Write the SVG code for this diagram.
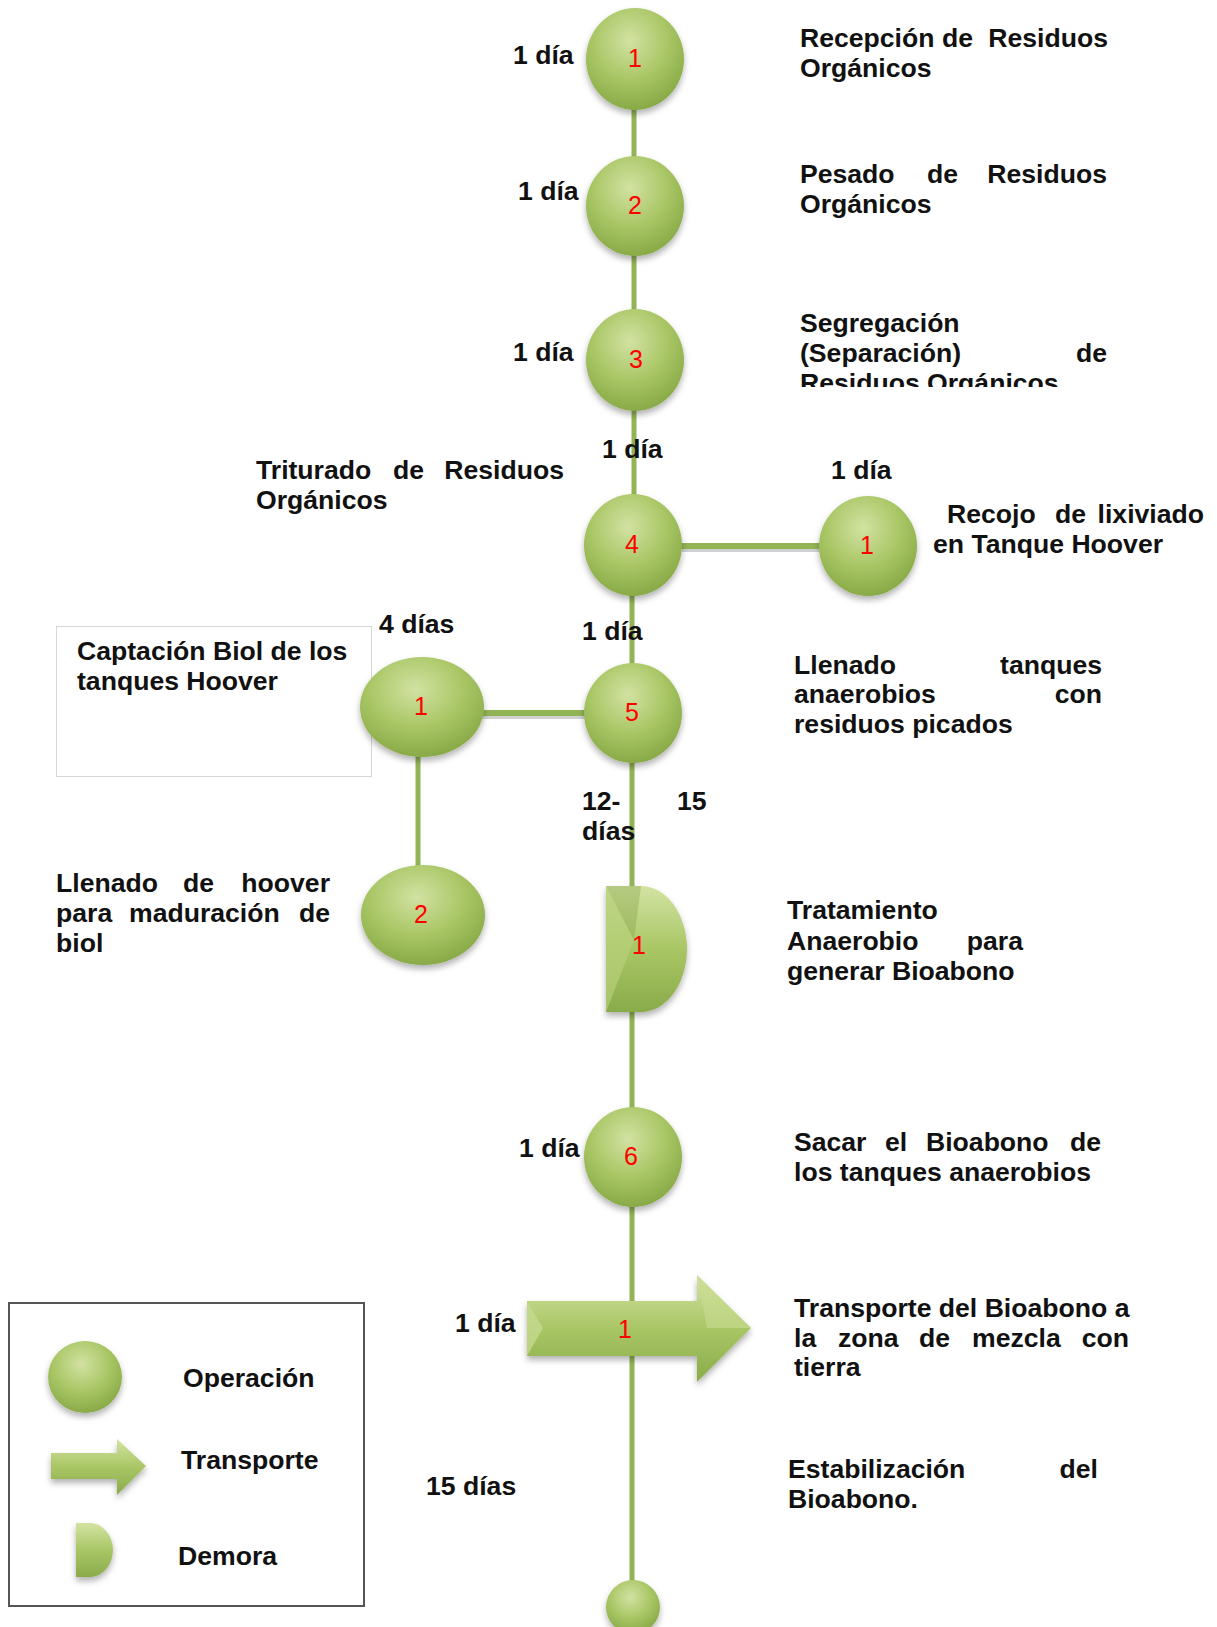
<svg xmlns="http://www.w3.org/2000/svg" width="1217" height="1627" viewBox="0 0 1217 1627">
<style>
.t{font-family:"Liberation Sans",Arial,sans-serif;font-weight:bold;font-size:26.6px;fill:#111}
.e{text-anchor:end}
.n{font-family:"Liberation Sans",Arial,sans-serif;font-size:25px;fill:#ff0000;text-anchor:middle}
.op{fill:url(#gOp);filter:url(#sh)}
.sym{fill:url(#gLin);filter:url(#sh)}
.ln{stroke:#92b455;stroke-width:5;fill:none}
.lnh{stroke:#92b455;stroke-width:6;fill:none}
.lns{stroke:#000;stroke-opacity:0.18;stroke-width:4;fill:none}
</style>
<defs>
<radialGradient id="gOp" cx="45%" cy="32%" r="70%">
<stop offset="0" stop-color="#d2e2a2"/>
<stop offset="0.55" stop-color="#a9c665"/>
<stop offset="1" stop-color="#86a845"/>
</radialGradient>
<linearGradient id="gLin" x1="0" y1="0" x2="0" y2="1">
<stop offset="0" stop-color="#d3e3a3"/>
<stop offset="0.5" stop-color="#a9c665"/>
<stop offset="1" stop-color="#8aab4a"/>
</linearGradient>
<filter id="sh" x="-30%" y="-30%" width="160%" height="160%">
<feDropShadow dx="0" dy="4" stdDeviation="3" flood-color="#000" flood-opacity="0.3"/>
</filter>
<clipPath id="clip3"><rect x="780" y="290" width="360" height="97"/></clipPath>
</defs>
<rect width="1217" height="1627" fill="#fff"/>

<g id="connectors">
<line class="ln" x1="634" y1="100" x2="634" y2="500"/>
<line class="ln" x1="632" y1="500" x2="632" y2="1585"/>
<line class="lns" x1="682" y1="550" x2="820" y2="550"/>
<line class="lnh" x1="680" y1="546" x2="820" y2="546"/>
<line class="lns" x1="482" y1="717" x2="586" y2="717"/>
<line class="lnh" x1="482" y1="713" x2="586" y2="713"/>
<line class="ln" x1="418" y1="752" x2="418" y2="866"/>
</g>

<g id="op1">
<ellipse class="op" cx="635" cy="59" rx="49" ry="51"/>
<text class="n" x="635" y="67">1</text>
<text class="t" x="513" y="64">1 día</text>
<text class="t" y="47"><tspan x="800">Recepción</tspan><tspan x="942">de</tspan><tspan class="e" x="1108">Residuos</tspan></text>
<text class="t" x="800" y="77">Orgánicos</text>
</g>

<g id="op2">
<ellipse class="op" cx="635" cy="206" rx="49" ry="50"/>
<text class="n" x="635" y="214">2</text>
<text class="t" x="518" y="200">1 día</text>
<text class="t" y="183"><tspan x="800">Pesado</tspan><tspan x="927">de</tspan><tspan class="e" x="1107">Residuos</tspan></text>
<text class="t" x="800" y="213">Orgánicos</text>
</g>

<g id="op3">
<ellipse class="op" cx="635" cy="360" rx="49" ry="51"/>
<text class="n" x="636" y="368">3</text>
<text class="t" x="513" y="361">1 día</text>
<text class="t" x="800" y="332">Segregación</text>
<text class="t" y="362"><tspan x="800">(Separación)</tspan><tspan class="e" x="1107">de</tspan></text>
<text class="t" x="800" y="392" clip-path="url(#clip3)">Residuos Orgánicos</text>
</g>

<g id="op4">
<ellipse class="op" cx="633" cy="545" rx="49" ry="51"/>
<text class="n" x="632" y="553">4</text>
<text class="t" x="602" y="458">1 día</text>
<text class="t" y="479"><tspan x="256">Triturado</tspan><tspan x="393">de</tspan><tspan class="e" x="564">Residuos</tspan></text>
<text class="t" x="256" y="509">Orgánicos</text>
</g>

<g id="opLix">
<ellipse class="op" cx="868" cy="546" rx="49" ry="50"/>
<text class="n" x="867" y="554">1</text>
<text class="t" x="831" y="479">1 día</text>
<text class="t" y="523"><tspan x="947">Recojo</tspan><tspan x="1055">de</tspan><tspan class="e" x="1204">lixiviado</tspan></text>
<text class="t" x="933" y="553">en Tanque Hoover</text>
</g>

<g id="op5">
<ellipse class="op" cx="633" cy="713" rx="49" ry="50"/>
<text class="n" x="632" y="721">5</text>
<text class="t" x="582" y="640">1 día</text>
<text class="t" y="674"><tspan x="794">Llenado</tspan><tspan class="e" x="1102">tanques</tspan></text>
<text class="t" y="703"><tspan x="794">anaerobios</tspan><tspan class="e" x="1102">con</tspan></text>
<text class="t" x="794" y="733">residuos picados</text>
</g>

<g id="opBiol1">
<rect x="56.5" y="626.5" width="315" height="150" fill="#fff" stroke="#d6d6d6" stroke-width="1"/>
<ellipse class="op" cx="422" cy="707" rx="62" ry="50"/>
<text class="n" x="421" y="715">1</text>
<text class="t" x="379" y="633">4 días</text>
<text class="t" x="77" y="660">Captación Biol de los</text>
<text class="t" x="77" y="690">tanques Hoover</text>
</g>

<g id="opBiol2">
<ellipse class="op" cx="423" cy="915" rx="62" ry="50"/>
<text class="n" x="421" y="923">2</text>
<text class="t" y="892"><tspan x="56">Llenado</tspan><tspan x="183">de</tspan><tspan class="e" x="330">hoover</tspan></text>
<text class="t" y="922"><tspan x="56">para</tspan><tspan x="129">maduración</tspan><tspan class="e" x="330">de</tspan></text>
<text class="t" x="56" y="952">biol</text>
</g>

<g id="demora1">
<path class="sym" d="M606,886 H641 A46,63 0 0 1 641,1012 H606 Z"/>
<path d="M606,886 L634,940 L606,1012 Z" fill="#b7d07a" opacity="0.7"/>
<path d="M606,886 L634,940 L641,886 Z" fill="#7f9f42" opacity="0.35"/>
<text class="n" x="639" y="954">1</text>
<text class="t" x="582" y="810">12-</text>
<text class="t" x="677" y="810">15</text>
<text class="t" x="582" y="840">días</text>
<text class="t" x="787" y="919">Tratamiento</text>
<text class="t" y="950"><tspan x="787">Anaerobio</tspan><tspan class="e" x="1023">para</tspan></text>
<text class="t" x="787" y="980">generar Bioabono</text>
</g>

<g id="op6">
<ellipse class="op" cx="633" cy="1157" rx="49" ry="50"/>
<text class="n" x="631" y="1165">6</text>
<text class="t" x="519" y="1157">1 día</text>
<text class="t" y="1151"><tspan x="794">Sacar</tspan><tspan x="885">el</tspan><tspan x="926">Bioabono</tspan><tspan class="e" x="1101">de</tspan></text>
<text class="t" x="794" y="1181">los tanques anaerobios</text>
</g>

<g id="transporte1">
<path class="sym" d="M527,1301 H697 V1275 L751,1328 L697,1382 V1356 H527 Z"/>
<path d="M527,1301 L543,1328 L527,1356 Z" fill="#c6da8e" opacity="0.8"/>
<path d="M697,1275 L751,1328 L707,1328 Z" fill="#c9dc93" opacity="0.6"/>
<text class="n" x="625" y="1338">1</text>
<text class="t" x="455" y="1332">1 día</text>
<text class="t" x="794" y="1317">Transporte del Bioabono a</text>
<text class="t" y="1347"><tspan x="794">la</tspan><tspan x="838">zona</tspan><tspan x="919">de</tspan><tspan x="972">mezcla</tspan><tspan class="e" x="1129">con</tspan></text>
<text class="t" x="794" y="1376">tierra</text>
</g>

<g id="opFinal">
<ellipse class="op" cx="633" cy="1607" rx="27" ry="27"/>
<text class="t" x="426" y="1495">15 días</text>
<text class="t" y="1478"><tspan x="788">Estabilización</tspan><tspan class="e" x="1098">del</tspan></text>
<text class="t" x="788" y="1508">Bioabono.</text>
</g>

<g id="legend">
<rect x="9" y="1303" width="355" height="303" fill="#fff" stroke="#555" stroke-width="2"/>
<ellipse class="op" cx="85" cy="1377" rx="37" ry="36"/>
<text class="t" x="183" y="1387">Operación</text>
<path class="sym" d="M51,1453 H117 V1439 L146,1466 L117,1495 V1479 H51 Z"/>
<text class="t" x="181" y="1469">Transporte</text>
<path class="sym" d="M76,1523 H90 A23,27 0 0 1 90,1577 H76 Z"/>
<text class="t" x="178" y="1565">Demora</text>
</g>
</svg>
